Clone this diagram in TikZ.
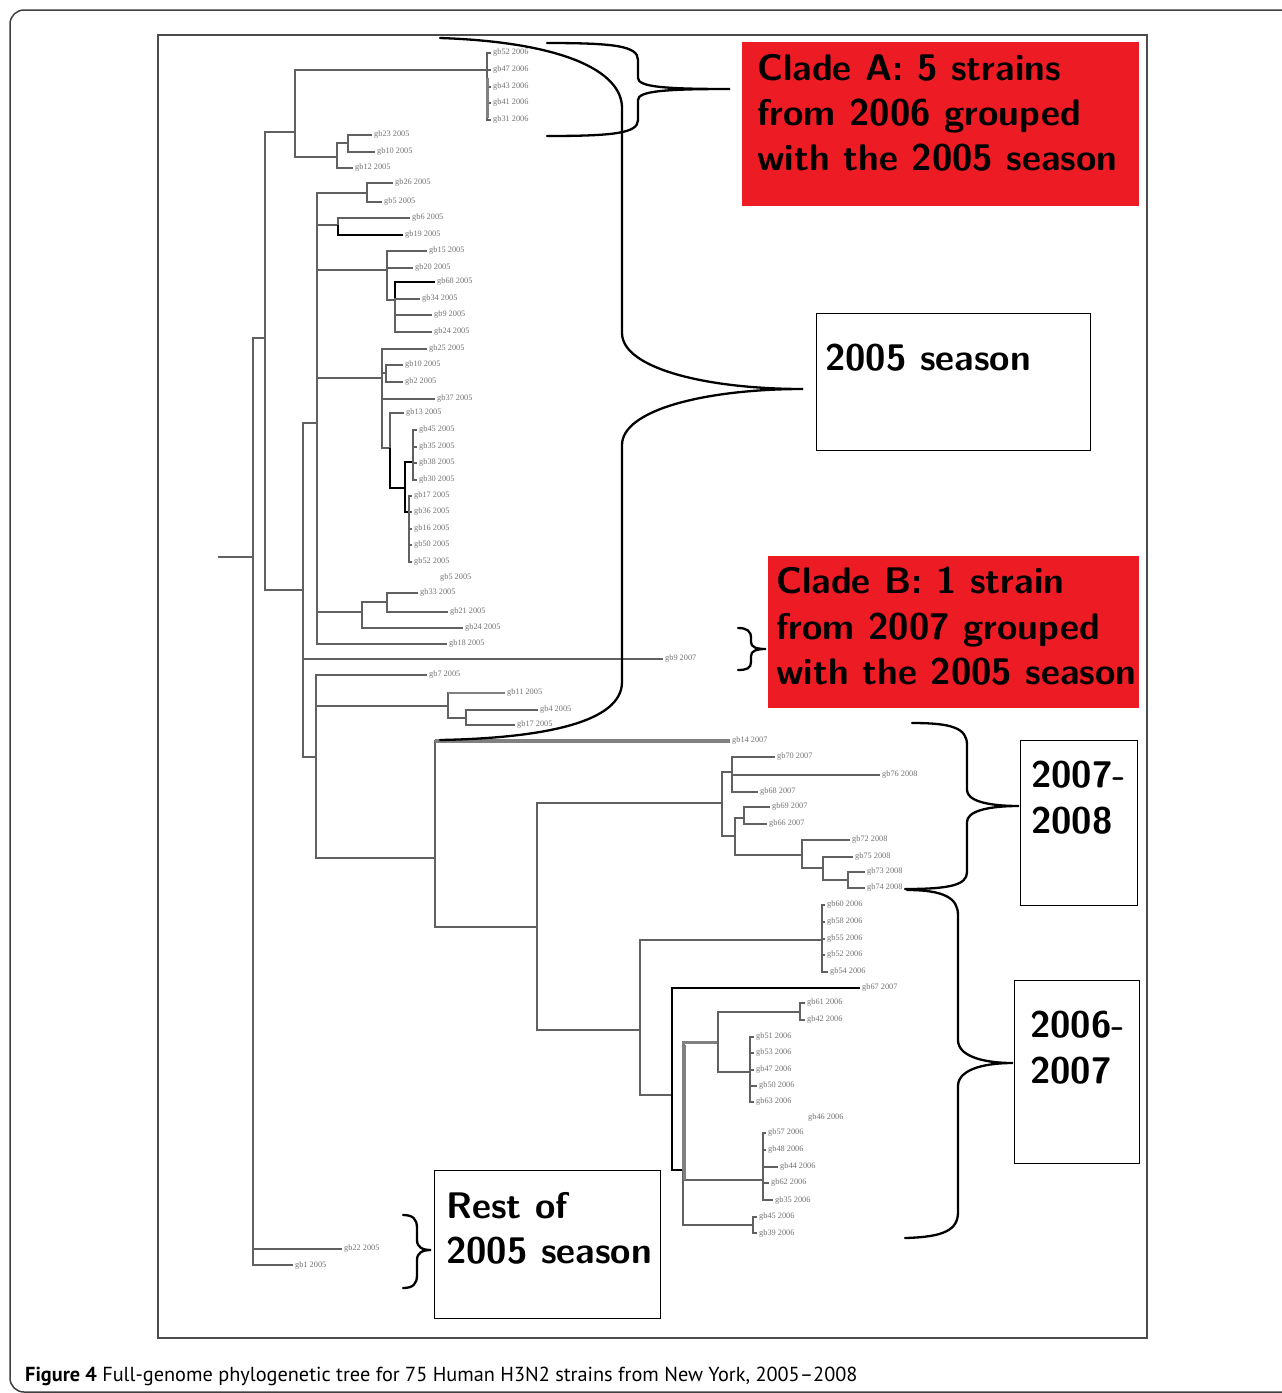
\documentclass[tikz,border=0pt]{standalone}
\usepackage{fontspec}
\newfontfamily\capfont{PT Sans}
\newfontfamily\labfont{Liberation Serif}
\definecolor{cladered}{HTML}{ED1C24}
\newcommand\lf[4]{\coordinate (#1) at (#2,#3); \node[lab] (#1l) at (#2,#3) {#4};}
\newcommand\tedge[3][]{\foreach \c in {#3} {\draw[br,#1] (#2) |- (\c);}}
\begin{document}
\begin{tikzpicture}[x=1pt,y=-1pt,
  br/.style={draw=black!62,line width=1.2pt},
  blk/.style={draw=black,line width=2.2pt},
  gth/.style={draw=black!50,line width=3.5pt},
  lab/.style={anchor=west,xshift=2pt,inner sep=0pt,text=black!55,font=\labfont\fontsize{8.3}{9}\selectfont},
  brace/.style={draw=black,line width=2.3pt,line cap=round},
  bt/.style={anchor=base west,inner sep=0pt,font=\sffamily\bfseries\fontsize{37}{40}\selectfont},
  redbox/.style={fill=cladered,draw=none},
  wbox/.style={draw=black,line width=1.2pt,fill=white}]
\useasboundingbox (0,0) rectangle (1282,1393);
\fill[white] (0,0) rectangle (1282,1393);
\begin{scope}
\clip (0,0) rectangle (1282,1393);
\draw[black!75,line width=1.5pt,rounded corners=14pt] (10,10) rectangle (1300,1392);
\end{scope}
\draw[black!70,line width=2pt] (158,35) rectangle (1147,1338);

% ---------------- tree ----------------
\coordinate (r0) at (218,557);
\coordinate (r1) at (253,557);
\draw[br] (r0) -- (r1);
\coordinate (n265) at (265,338);
\lf{L22}{342}{1249}{gb22 2005}
\lf{L1}{293}{1265}{gb1 2005}
\tedge{r1}{n265,L22,L1}
\coordinate (n295) at (295,132);
\coordinate (n303) at (303,590);
\tedge{n265}{n295,n303}
\coordinate (nA) at (487,70);
\coordinate (n337) at (337,157);
\tedge{n295}{nA,n337}
\lf{A1}{491}{53}{gb52 2006}
\lf{A2}{491}{70}{gb47 2006}
\lf{A3}{491}{87}{gb43 2006}
\lf{A4}{491}{103}{gb41 2006}
\lf{A5}{491}{120}{gb31 2006}
\tedge{nA}{A1,A2,A3,A4,A5}
\draw[gth,line width=3pt] (487,78) -- (487,118);
\coordinate (n348) at (348,143);
\lf{L12}{353}{168}{gb12 2005}
\tedge{n337}{n348,L12}
\lf{L23}{372}{135}{gb23 2005}
\lf{L10}{375}{152}{gb10 2005}
\tedge{n348}{L23,L10}

\coordinate (n317) at (317,423);
\lf{L9}{663}{659}{gb9 2007}
\coordinate (n316) at (316,757);
\tedge{n303}{n317,L9,n316}

\coordinate (n367) at (367,193);
\coordinate (n338b) at (338,225);
\coordinate (n387) at (387,270);
\coordinate (n382) at (382,378);
\coordinate (n362) at (362,612);
\lf{L18}{447}{644}{gb18 2005}
\tedge[line width=1.6pt]{n317}{n367,n338b,n387,n382,n362,L18}
\lf{L26}{393}{183}{gb26 2005}
\lf{L5}{382}{202}{gb5 2005}
\tedge{n367}{L26,L5}
\lf{L6}{410}{218}{gb6 2005}
\lf{L19}{403}{235}{gb19 2005}
\tedge{n338b}{L6}
\tedge[blk]{n338b}{L19}
\lf{L15}{427}{251}{gb15 2005}
\lf{L20}{413}{268}{gb20 2005}
\coordinate (n395) at (395,300);
\tedge{n387}{L15,L20,n395}
\lf{L68}{435}{282}{gb68 2005}
\lf{L34}{420}{299}{gb34 2005}
\lf{L9b}{432}{315}{gb9 2005}
\lf{L24}{432}{332}{gb24 2005}
\tedge[blk]{n395}{L68}
\tedge{n395}{L34,L9b,L24}
\lf{L25}{427}{349}{gb25 2005}
\coordinate (n386) at (386,373);
\lf{L37}{435}{399}{gb37 2005}
\coordinate (n390) at (390,448);
\tedge{n382}{L25,n386,L37,n390}
\lf{L10b}{403}{365}{gb10 2005}
\lf{L2}{403}{382}{gb2 2005}
\tedge{n386}{L10b,L2}
\lf{L13}{404}{413}{gb13 2005}
\coordinate (n405) at (405,488);
\tedge{n390}{L13}
\tedge[blk]{n390}{n405}
\coordinate (n413) at (413,462);
\coordinate (n409) at (409,512);
\tedge[blk]{n405}{n413,n409}
\lf{L45}{417}{430}{gb45 2005}
\lf{L35}{417}{447}{gb35 2005}
\lf{L38}{417}{463}{gb38 2005}
\lf{L30}{417}{480}{gb30 2005}
\tedge{n413}{L45,L35,L38,L30}
\lf{L17}{412}{496}{gb17 2005}
\lf{L36}{412}{512}{gb36 2005}
\lf{L16}{412}{529}{gb16 2005}
\lf{L50}{412}{545}{gb50 2005}
\lf{L52}{412}{562}{gb52 2005}
\tedge{n409}{L17,L36,L16,L50,L52}
\node[lab] (F5) at (438,578) {gb5 2005};
\coordinate (n387b) at (387,602);
\lf{L24b}{463}{628}{gb24 2005}
\tedge{n362}{n387b,L24b}
\lf{L33}{418}{593}{gb33 2005}
\lf{L21}{448}{612}{gb21 2005}
\tedge{n387b}{L33,L21}

\lf{L7}{427}{675}{gb7 2005}
\coordinate (n448) at (448,706);
\coordinate (n435) at (435,858);
\tedge{n316}{L7,n448,n435}
\lf{L11}{505}{693}{gb11 2005}
\coordinate (n466) at (466,718);
\tedge{n448}{L11,n466}
\draw[gth,line width=2.6pt] (448,693) -- (L11);
\lf{L4}{538}{710}{gb4 2005}
\lf{L17b}{515}{725}{gb17 2005}
\tedge{n466}{L4,L17b}
\lf{L14}{730}{741}{gb14 2007}
\coordinate (n537) at (537,927);
\tedge{n435}{L14,n537}
\draw[gth] (435,741) -- (L14);
\coordinate (n722) at (722,803);
\coordinate (n640) at (640,1030);
\tedge{n537}{n722,n640}
\coordinate (n732) at (732,772);
\coordinate (n735) at (735,836);
\tedge{n722}{n732,n735}
\lf{L70}{775}{757}{gb70 2007}
\lf{L76}{880}{775}{gb76 2008}
\lf{L68b}{758}{792}{gb68 2007}
\tedge{n732}{L70,L76,L68b}
\coordinate (n744) at (744,818);
\coordinate (n802) at (802,855);
\tedge{n735}{n744,n802}
\lf{L69}{770}{807}{gb69 2007}
\lf{L66}{767}{824}{gb66 2007}
\tedge{n744}{L69,L66}
\lf{L72}{850}{840}{gb72 2008}
\coordinate (n823) at (823,868);
\tedge{n802}{L72,n823}
\lf{L75}{853}{857}{gb75 2008}
\coordinate (n848) at (848,880);
\tedge{n823}{L75,n848}
\lf{L73}{865}{872}{gb73 2008}
\lf{L74}{865}{888}{gb74 2008}
\tedge{n848}{L73,L74}

\coordinate (n822) at (822,940);
\coordinate (n672) at (672,1095);
\tedge{n640}{n822,n672}
\lf{L60}{825}{905}{gb60 2006}
\lf{L58}{825}{922}{gb58 2006}
\lf{L55}{825}{939}{gb55 2006}
\lf{L52b}{825}{955}{gb52 2006}
\lf{L54}{828}{972}{gb54 2006}
\tedge{n822}{L60,L58,L55,L52b,L54}
\lf{L67}{860}{988}{gb67 2007}
\coordinate (n683) at (683,1170);
\tedge[blk,line width=1.8pt]{n672}{L67,n683}
\coordinate (n718) at (718,1042);
\coordinate (n763) at (763,1180);
\coordinate (n753) at (753,1225);
\tedge{n683}{n763,n753}
\tedge[gth,line width=3pt]{n683}{n718}
\coordinate (n800) at (800,1012);
\coordinate (n750) at (750,1072);
\tedge{n718}{n800,n750}
\lf{L61}{805}{1003}{gb61 2006}
\lf{L42}{805}{1020}{gb42 2006}
\tedge{n800}{L61,L42}
\lf{L51}{754}{1037}{gb51 2006}
\lf{L53}{754}{1053}{gb53 2006}
\lf{L47}{754}{1070}{gb47 2006}
\lf{L50b}{757}{1086}{gb50 2006}
\lf{L63}{754}{1102}{gb63 2006}
\tedge{n750}{L51,L53,L47,L50b,L63}
\node[lab] (F46) at (806,1118) {gb46 2006};
\lf{L57}{766}{1133}{gb57 2006}
\lf{L48}{766}{1150}{gb48 2006}
\lf{L44}{778}{1167}{gb44 2006}
\lf{L62}{769}{1183}{gb62 2006}
\lf{L35b}{773}{1200}{gb35 2006}
\tedge{n763}{L57,L48,L44,L62,L35b}
\lf{L45b}{757}{1217}{gb45 2006}
\lf{L39}{757}{1233}{gb39 2006}
\tedge{n753}{L45b,L39}
\draw[gth,line width=3pt] (684,1045) -- (684,1180);

% ---------------- boxes ----------------
\node[redbox,minimum width=397pt,minimum height=164pt,anchor=north west] (boxA) at (742,42) {};
\node[bt] (tA1) at (757,80) {Clade A: 5 strains};
\node[bt] (tA2) at (757,125) {from 2006 grouped};
\node[bt] (tA3) at (757,170) {with the 2005 season};

\node[wbox,minimum width=274pt,minimum height=137pt,anchor=north west] (box05) at (816,313) {};
\node[bt] (t05) at (825,370) {2005 season};

\node[redbox,minimum width=371pt,minimum height=152pt,anchor=north west] (boxB) at (768,556) {};
\node[bt] (tB1) at (776,593) {Clade B: 1 strain};
\node[bt] (tB2) at (776,639) {from 2007 grouped};
\node[bt] (tB3) at (776,684) {with the 2005 season};

\node[wbox,minimum width=117pt,minimum height=165pt,anchor=north west] (box78) at (1020,740) {};
\node[bt] (t781) at (1031,787) {2007-};
\node[bt] (t782) at (1031,833) {2008};

\node[wbox,minimum width=125pt,minimum height=183pt,anchor=north west] (box67) at (1014,980) {};
\node[bt] (t671) at (1030,1037) {2006-};
\node[bt] (t672) at (1030,1083) {2007};

\node[wbox,minimum width=226pt,minimum height=148pt,anchor=north west] (boxR) at (434,1170) {};
\node[bt] (tR1) at (446,1218) {Rest of};
\node[bt] (tR2) at (446,1263) {2005 season};

% ---------------- braces ----------------
\draw[brace] (440,38) .. controls (560,42) and (622,70) .. (622,108) -- (622,333)
  .. controls (622,368) and (705,389) .. (803,389)
  .. controls (705,389) and (622,410) .. (622,445) -- (622,682)
  .. controls (622,722) and (545,738) .. (440,740);
\draw[brace] (547,43) .. controls (615,43) and (638,46) .. (638,60) -- (638,78)
  .. controls (638,87) and (665,89) .. (730,89)
  .. controls (665,89) and (638,91) .. (638,100) -- (638,120)
  .. controls (638,133) and (615,136) .. (547,136);
\draw[brace] (738,628) .. controls (747,628) and (751,631) .. (751,638) -- (751,642)
  .. controls (751,647) and (756,649) .. (766,649)
  .. controls (756,649) and (751,651) .. (751,656) -- (751,662)
  .. controls (751,668) and (747,670) .. (738,670);
\draw[brace] (912,723) .. controls (952,723) and (967,728) .. (967,745) -- (967,790)
  .. controls (967,800) and (985,806) .. (1019,806)
  .. controls (985,806) and (967,812) .. (967,822) -- (967,872)
  .. controls (967,885) and (950,889) .. (905,889);
\draw[brace] (907,890) .. controls (944,890) and (958,898) .. (958,915) -- (958,1040)
  .. controls (958,1055) and (980,1063) .. (1013,1063)
  .. controls (980,1063) and (958,1071) .. (958,1086) -- (958,1212)
  .. controls (958,1230) and (944,1237) .. (905,1238);
\draw[brace] (403,1215) .. controls (413,1215) and (417,1219) .. (417,1228) -- (417,1240)
  .. controls (417,1247) and (422,1250) .. (431,1250)
  .. controls (422,1250) and (417,1253) .. (417,1260) -- (417,1275)
  .. controls (417,1284) and (413,1288) .. (403,1288);

% ---------------- caption ----------------
\node[anchor=base west,inner sep=0pt,font=\capfont\fontsize{20.3}{23}\selectfont] (cap) at (25,1381)
  {\textbf{Figure 4} Full-genome phylogenetic tree for 75 Human H3N2 strains from New York, 2005–2008};
\end{tikzpicture}
\end{document}
